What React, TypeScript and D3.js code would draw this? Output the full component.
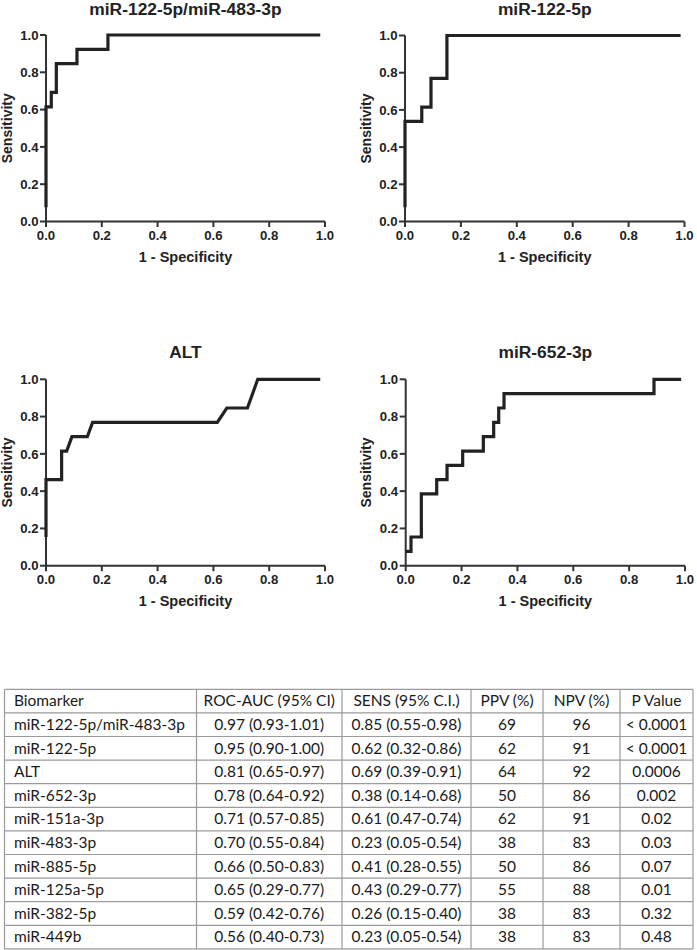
import React from 'react';
import * as d3 from 'd3';

// ---- ROC curve vertices (1 - specificity, sensitivity) ----
const comboFpr = [0, 0, 0.019, 0.019, 0.037, 0.037, 0.111, 0.111, 0.222, 0.222, 0.983];
const comboTpr = [0.077, 0.615, 0.615, 0.692, 0.692, 0.846, 0.846, 0.923, 0.923, 1, 1];

const mir122Fpr = [0, 0, 0.06, 0.06, 0.093, 0.093, 0.15, 0.15, 0.986];
const mir122Tpr = [0.077, 0.538, 0.538, 0.615, 0.615, 0.769, 0.769, 1, 1];

const altFpr = [0, 0, 0.056, 0.056, 0.074, 0.093, 0.148, 0.167, 0.614, 0.648, 0.722, 0.759, 0.983];
const altTpr = [0.154, 0.462, 0.462, 0.615, 0.615, 0.692, 0.692, 0.769, 0.769, 0.846, 0.846, 1, 1];

const mir652Fpr = [0, 0.019, 0.019, 0.056, 0.056, 0.111, 0.111, 0.148, 0.148, 0.204, 0.204, 0.278, 0.278, 0.315, 0.315, 0.333, 0.333, 0.352, 0.352, 0.889, 0.889, 0.986];
const mir652Tpr = [0.077, 0.077, 0.154, 0.154, 0.385, 0.385, 0.462, 0.462, 0.538, 0.538, 0.615, 0.615, 0.692, 0.692, 0.769, 0.769, 0.846, 0.846, 0.923, 0.923, 1, 1];

const axisTicks = [0, 0.2, 0.4, 0.6, 0.8, 1.0];
const panelTitles = ['miR-122-5p/miR-483-3p', 'miR-122-5p', 'ALT', 'miR-652-3p'];

// ---- table ----
const tableHeaders = ['Biomarker', 'ROC-AUC (95% CI)', 'SENS (95% C.I.)', 'PPV (%)', 'NPV (%)', 'P Value'];
const biomarkers = ['miR-122-5p/miR-483-3p', 'miR-122-5p', 'ALT', 'miR-652-3p', 'miR-151a-3p', 'miR-483-3p', 'miR-885-5p', 'miR-125a-5p', 'miR-382-5p', 'miR-449b'];
const rocAuc = ['0.97 (0.93-1.01)', '0.95 (0.90-1.00)', '0.81 (0.65-0.97)', '0.78 (0.64-0.92)', '0.71 (0.57-0.85)', '0.70 (0.55-0.84)', '0.66 (0.50-0.83)', '0.65 (0.29-0.77)', '0.59 (0.42-0.76)', '0.56 (0.40-0.73)'];
const sens = ['0.85 (0.55-0.98)', '0.62 (0.32-0.86)', '0.69 (0.39-0.91)', '0.38 (0.14-0.68)', '0.61 (0.47-0.74)', '0.23 (0.05-0.54)', '0.41 (0.28-0.55)', '0.43 (0.29-0.77)', '0.26 (0.15-0.40)', '0.23 (0.05-0.54)'];
const ppv = ['69', '62', '64', '50', '62', '38', '50', '55', '38', '38'];
const npv = ['96', '91', '92', '86', '91', '83', '86', '88', '83', '83'];
const pValue = ['< 0.0001', '< 0.0001', '0.0006', '0.002', '0.02', '0.03', '0.07', '0.01', '0.32', '0.48'];

const panelLayout = [
  { left: 46, right: 325, top: 35, bottom: 221.5 },
  { left: 405, right: 684.5, top: 35.5, bottom: 221.5 },
  { left: 46, right: 325, top: 379.3, bottom: 565.7 },
  { left: 405.7, right: 685, top: 379.3, bottom: 565.7 },
];
const panelData = [
  [comboFpr, comboTpr],
  [mir122Fpr, mir122Tpr],
  [altFpr, altTpr],
  [mir652Fpr, mir652Tpr],
];

const chartFont = '"Liberation Sans", Arial, sans-serif';
const tableFont = 'Lato, "Open Sans", sans-serif';
const fmt = d3.format('.1f');

function Panel({ idx }: { idx: number }) {
  const L = panelLayout[idx];
  const [fpr, tpr] = panelData[idx];
  const x = d3.scaleLinear().domain([0, 1]).range([L.left, L.right]);
  const y = d3.scaleLinear().domain([0, 1]).range([L.bottom, L.top]);
  const pts: [number, number][] = fpr.map((f, i) => [f, tpr[i]]);
  const line = d3.line<[number, number]>().x(d => x(d[0])).y(d => y(d[1])).curve(d3.curveLinear);
  const axisColor = '#333';
  const cx = (L.left + L.right) / 2;
  const cy = (L.top + L.bottom) / 2;
  const titleY = Math.max(15.2, L.top - 21.7);
  return (
    <g fontFamily={chartFont} fontWeight="bold" fill="#222">
      <text x={cx} y={titleY} textAnchor="middle" fontSize={17.4}>{panelTitles[idx]}</text>
      {/* axes */}
      <line x1={x(0)} x2={x(1)} y1={y(0)} y2={y(0)} stroke={axisColor} strokeWidth={2} />
      <line x1={x(0)} x2={x(0)} y1={y(0) + 1} y2={y(1)} stroke={axisColor} strokeWidth={2} />
      {axisTicks.map(t => (
        <g key={'x' + t}>
          <line x1={x(t)} x2={x(t)} y1={y(0)} y2={y(0) + 5.5} stroke={axisColor} strokeWidth={2} />
          <text x={x(t)} y={y(0) + 18.7} textAnchor="middle" fontSize={13.2}>{fmt(t)}</text>
        </g>
      ))}
      {axisTicks.map(t => (
        <g key={'y' + t}>
          <line x1={x(0) - 6} x2={x(0)} y1={y(t)} y2={y(t)} stroke={axisColor} strokeWidth={2} />
          <text x={x(0) - 7.5} y={y(t)} dy="0.36em" textAnchor="end" fontSize={13.2}>{fmt(t)}</text>
        </g>
      ))}
      <text x={cx} y={y(0) + 40.5} textAnchor="middle" fontSize={14.5}>1 - Specificity</text>
      <text transform={`translate(${x(0) - 34.5},${cy}) rotate(-90)`} textAnchor="middle" fontSize={14}>Sensitivity</text>
      <path d={line(pts) || ''} fill="none" stroke="#222" strokeWidth={3.2} strokeLinejoin="miter" />
    </g>
  );
}

function Table() {
  const colX = [4.5, 196.5, 342, 471, 543, 620, 693];
  const top = 689.3;
  const rowH = 23.6;
  const nRows = biomarkers.length + 1;
  const rows = [tableHeaders].concat(
    biomarkers.map((b, i) => [b, rocAuc[i], sens[i], ppv[i], npv[i], pValue[i]])
  );
  const rowY = d3.scaleLinear().domain([0, nRows]).range([top, top + rowH * nRows]);
  return (
    <g fontFamily={tableFont} fontSize={15.5} fill="#1a1a1a">
      {d3.range(nRows + 1).map(r => (
        <line key={'h' + r} x1={colX[0]} x2={colX[6]} y1={rowY(r)} y2={rowY(r)} stroke="#9a9a9a" strokeWidth={1.2} />
      ))}
      {colX.map((cxv, c) => (
        <line key={'v' + c} x1={cxv} x2={cxv} y1={rowY(0)} y2={rowY(nRows)} stroke="#9a9a9a" strokeWidth={1.2} />
      ))}
      {rows.map((row, r) => (
        <g key={'r' + r}>
          {row.map((cell, c) => (
            c === 0 ? (
              <text key={c} x={colX[0] + 9.5} y={rowY(r) + 17}>{cell}</text>
            ) : (
              <text key={c} x={(colX[c] + colX[c + 1]) / 2} y={rowY(r) + 17} textAnchor="middle">{cell}</text>
            )
          ))}
        </g>
      ))}
    </g>
  );
}

export default function App() {
  return (
    <svg width={697} height={950} style={{ position: 'absolute', left: 0, top: 0, background: '#fff' }}>
      <rect width={697} height={950} fill="#fff" />
      {[0, 1, 2, 3].map(i => <Panel key={i} idx={i} />)}
      <Table />
    </svg>
  );
}
